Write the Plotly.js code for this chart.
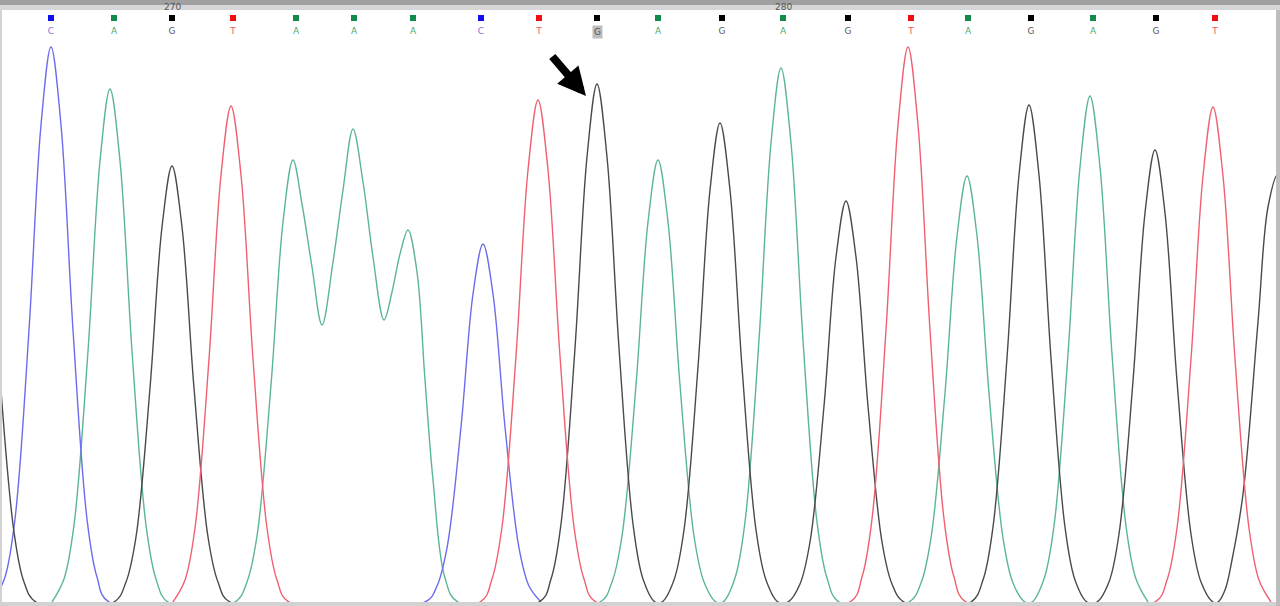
<!DOCTYPE html>
<html>
<head>
<meta charset="utf-8">
<script src="https://cdn.plot.ly/plotly-3.0.1.min.js"></script>
<style>
  body { margin: 0; background: #d4d4d4; }
  #trace-plot { width: 1280px; height: 606px; }
</style>
</head>
<body>
<div id="trace-plot"></div>
<script>
// Sanger trace, bases 268-287, the called G at 277 is highlighted

// base calls and where each call sits on the scan axis
var bases = ["C","A","G","T","A","A","A","C","T","G","A","G","A","G","T","A","G","A","G","T"];
var callScan = [51,114,172,233,296,354,413,481,539,597,658,722,783,848,911,968,1031,1093,1156,1215];
var firstBase = 268;
var tickBases = [270, 280];
var markedIndex = 9;

// signal, one list per dye
var aScan = [52,64,74,88,100,110,120,132,146,156,168,
  235,247,257,271,283,293,302,312,322,333,343,353,363,373,384,392,400,408,417,425,433,445,458,
  600,612,622,636,648,658,668,680,694,704,716,
  723,735,745,759,771,781,791,803,817,827,839,
  909,921,931,945,957,967,977,989,1003,1013,1025,
  1032,1044,1054,1068,1080,1090,1100,1112,1126,1136,1148];
var aSignal = [0,23,77,251,441,513,441,251,77,23,0,
  0,20,66,217,380,442,398,335,277,340,412,473,420,345,282,310,348,372,330,222,122,24,0,
  0,20,66,217,380,442,380,217,66,20,0,
  0,24,80,262,459,534,459,262,80,24,0,
  0,19,64,209,366,426,366,209,64,19,0,
  0,23,76,248,435,506,435,248,76,23,0];

var cScan = [-7,5,15,29,41,51,61,73,87,97,109,
  425,437,447,461,473,483,493,505,519,529,541];
var cSignal = [0,25,83,272,477,555,477,272,83,25,0,
  0,16,54,175,308,358,308,175,54,16,0];

var gScan = [-32,-22,-12,0,14,24,36,
  114,126,136,150,162,172,182,194,208,218,230,
  539,551,561,575,587,597,607,619,633,643,655,
  662,674,684,698,710,720,730,742,756,766,778,
  788,800,810,824,836,846,856,868,882,892,904,
  971,983,993,1007,1019,1029,1039,1051,1065,1075,1087,
  1097,1109,1119,1133,1145,1155,1165,1177,1191,1201,1213,
  1218,1225,1232,1243,1258,1268,1278,1288];
var gSignal = [410,490,420,225,70,20,0,
  0,20,65,214,375,436,375,214,65,20,0,
  0,23,78,254,445,518,445,254,78,23,0,
  0,22,72,235,412,479,412,235,72,22,0,
  0,18,60,196,345,401,345,196,60,18,0,
  0,22,75,244,427,497,427,244,75,22,0,
  0,20,68,221,389,452,389,221,68,20,0,
  0,12,42,108,280,395,428,395];

var tScan = [173,185,195,209,221,231,241,253,267,277,289,
  480,492,502,516,528,538,548,560,574,584,596,
  850,862,872,886,898,908,918,930,944,954,966,
  1155,1167,1177,1191,1203,1213,1223,1235,1249,1259,1271];
var tSignal = [0,22,74,243,427,496,427,243,74,22,0,
  0,23,75,246,432,502,432,246,75,23,0,
  0,25,83,272,477,555,477,272,83,25,0,
  0,22,74,243,426,495,426,243,74,22,0];

var lineColor = {A: "#5cb595", C: "#6c6cee", G: "#4a4a4a", T: "#f0606e"};
var boxColor = {A: "#128a4a", C: "#1010ee", G: "#000000", T: "#ee1010"};
var letterColor = {A: "#4fa872", C: "#7777dd", G: "#5a5a5a", T: "#ee5566"};

function dyeTrace(x, y, base) {
  return {
    x: x, y: y,
    type: "scatter", mode: "lines",
    line: {color: lineColor[base], width: 1.4, shape: "spline"},
    hoverinfo: "skip"
  };
}

var traces = [
  dyeTrace(aScan, aSignal, "A"),
  dyeTrace(cScan, cSignal, "C"),
  dyeTrace(gScan, gSignal, "G"),
  dyeTrace(tScan, tSignal, "T")
];

// coloured squares and letters on the strip above
traces.push({
  x: callScan, y: bases.map(b => 22),
  yaxis: "y2", type: "scatter", mode: "markers",
  marker: {symbol: "square", size: 6, color: bases.map(b => boxColor[b])},
  hoverinfo: "skip"
});
traces.push({
  x: callScan, y: bases.map(b => 8),
  yaxis: "y2", type: "scatter", mode: "text",
  text: bases,
  textfont: {family: "DejaVu Sans", size: 9, color: bases.map(b => letterColor[b])},
  hoverinfo: "skip"
});

var plotTop = 10, plotBottom = 602, stripBottom = 40;
var plotH = plotBottom - plotTop;
function paperY(px) { return (plotBottom - px) / plotH; }

// base numbers every ten
var tickNotes = tickBases.map(n => ({
  x: callScan[n - firstBase], y: paperY(7), xref: "x", yref: "paper",
  text: String(n), showarrow: false, yanchor: "middle",
  font: {family: "DejaVu Sans", size: 9, color: "#555555"}
}));

var layout = {
  width: 1280, height: 606,
  margin: {l: 2, r: 4, t: plotTop, b: 606 - plotBottom},
  paper_bgcolor: "#d2d2d2",
  plot_bgcolor: "#ffffff",
  showlegend: false,
  hovermode: false,
  xaxis: {range: [2, 1276], visible: false, fixedrange: true},
  yaxis: {range: [0, plotBottom - stripBottom], domain: [0, paperY(stripBottom)],
          visible: false, fixedrange: true},
  yaxis2: {range: [0, stripBottom - plotTop], domain: [paperY(stripBottom), 1],
           visible: false, fixedrange: true},
  shapes: [
    {type: "rect", xref: "paper", yref: "paper", x0: -0.01, x1: 1.01,
     y0: paperY(5), y1: paperY(0), fillcolor: "#a0a0a0", line: {width: 0}, layer: "below"},
    {type: "rect", xref: "paper", yref: "paper", x0: -0.01, x1: 1.01,
     y0: paperY(10), y1: paperY(5), fillcolor: "#d6d6d6", line: {width: 0}, layer: "below"},
    {type: "rect", xref: "paper", yref: "paper", x0: 1.0, x1: 1.01,
     y0: -0.01, y1: 1, fillcolor: "#bdbdbd", line: {width: 0}, layer: "below"}
  ],
  annotations: tickNotes.concat([
    // highlighted call
    {x: callScan[markedIndex], y: 8, xref: "x", yref: "y2",
     text: bases[markedIndex], showarrow: false,
     font: {family: "DejaVu Sans", size: 9, color: "#555555"},
     bgcolor: "#bdbdbd", borderpad: 1},
    // arrow pointing at that peak
    {x: callScan[markedIndex] - 11, y: 506, xref: "x", yref: "y",
     text: "", showarrow: true, ax: -35, ay: -41,
     arrowhead: 2, arrowsize: 0.7, arrowwidth: 8, arrowcolor: "#000000"}
  ])
};

Plotly.newPlot("trace-plot", traces, layout, {displayModeBar: false, staticPlot: true});
</script>
</body>
</html>
